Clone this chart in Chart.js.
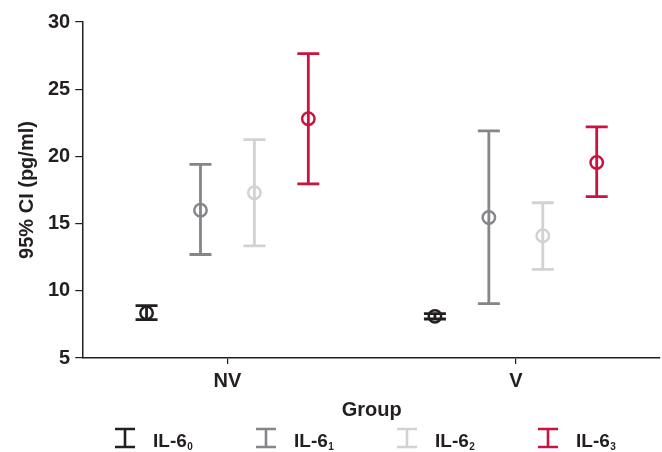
<!DOCTYPE html>
<html>
<head>
<meta charset="utf-8">
<script src="https://cdn.jsdelivr.net/npm/chart.js@4"></script>
<style>
  html, body { margin: 0; padding: 0; background: #fff; }
  #wrap { width: 662px; height: 452px; }
</style>
</head>
<body>
<div id="wrap"><canvas id="chart"></canvas></div>
<script>
// カテゴリ
const groups = ["NV", "V"];
const seriesLabels = ["0", "1", "2", "3"]; // IL-6 の添字
const yTicks = [5, 10, 15, 20, 25, 30];

// 平均値と95%CI（下限・上限）
const il6_0_mean = [8.35, 8.1];
const il6_0_low = [7.85, 7.9];
const il6_0_high = [8.9, 8.3];

const il6_1_mean = [16.0, 15.45];
const il6_1_low = [12.7, 9.05];
const il6_1_high = [19.4, 21.9];

const il6_2_mean = [17.3, 14.1];
const il6_2_low = [13.35, 11.6];
const il6_2_high = [21.25, 16.55];

const il6_3_mean = [22.8, 19.55];
const il6_3_low = [17.95, 17.0];
const il6_3_high = [27.65, 22.2];

// 色
const colors = ["#231f20", "#85858a", "#d2d2d2", "#c8143f"];

const means = [il6_0_mean, il6_1_mean, il6_2_mean, il6_3_mean];
const lows = [il6_0_low, il6_1_low, il6_2_low, il6_3_low];
const highs = [il6_0_high, il6_1_high, il6_2_high, il6_3_high];

const FONT = "'Liberation Sans', Arial, Helvetica, sans-serif";
const SPREAD = 0.187; // グループ内の系列間隔（x軸単位）
const CAP = 11;

const datasets = means.map((m, s) => ({
  label: "IL-6" + seriesLabels[s],
  data: m.map((v, g) => ({ x: g + 1 + (s - 1.5) * SPREAD, y: v })),
  borderColor: colors[s],
  backgroundColor: "rgba(0,0,0,0)",
  pointRadius: 6.2,
  pointHoverRadius: 6.2,
  pointBorderWidth: 2.5,
  showLine: false,
}));

// エラーバー描画
const errorBars = {
  id: "errorBars",
  beforeDatasetsDraw(chart) {
    const { ctx, scales } = chart;
    ctx.save();
    ctx.lineWidth = 2.8;
    means.forEach((m, s) => {
      ctx.strokeStyle = colors[s];
      m.forEach((v, g) => {
        const x = scales.x.getPixelForValue(g + 1 + (s - 1.5) * SPREAD);
        const yl = scales.y.getPixelForValue(lows[s][g]);
        const yh = scales.y.getPixelForValue(highs[s][g]);
        ctx.beginPath();
        ctx.moveTo(x, yl);
        ctx.lineTo(x, yh);
        ctx.moveTo(x - CAP, yl);
        ctx.lineTo(x + CAP, yl);
        ctx.moveTo(x - CAP, yh);
        ctx.lineTo(x + CAP, yh);
        ctx.stroke();
      });
    });
    ctx.restore();
  },
  afterDraw(chart) {
    // 凡例
    const ctx = chart.ctx;
    ctx.save();
    const cy = 438;
    seriesLabels.forEach((sub, s) => {
      const cx = 125 + s * 141;
      ctx.strokeStyle = colors[s];
      ctx.lineWidth = 2.6;
      ctx.beginPath();
      ctx.moveTo(cx, cy - 9);
      ctx.lineTo(cx, cy + 9);
      ctx.moveTo(cx - 10, cy - 9);
      ctx.lineTo(cx + 10, cy - 9);
      ctx.moveTo(cx - 10, cy + 9);
      ctx.lineTo(cx + 10, cy + 9);
      ctx.stroke();
      ctx.fillStyle = "#231f20";
      ctx.textBaseline = "alphabetic";
      ctx.textAlign = "left";
      ctx.font = "bold 19px " + FONT;
      const tx = cx + 28;
      ctx.fillText("IL-6", tx, cy + 9);
      const w = ctx.measureText("IL-6").width;
      ctx.font = "bold 10px " + FONT;
      ctx.fillText(sub, tx + w + 0.5, cy + 12);
    });
    ctx.restore();
  },
};

new Chart(document.getElementById("chart"), {
  type: "scatter",
  data: { datasets },
  plugins: [errorBars],
  options: {
    responsive: true,
    maintainAspectRatio: false,
    animation: false,
    layout: { autoPadding: false, padding: { top: 22, right: 2, bottom: 30, left: 15 } },
    plugins: {
      legend: { display: false },
      tooltip: { enabled: false },
    },
    scales: {
      x: {
        type: "linear",
        min: 0.5,
        max: 2.5,
        afterBuildTicks: (axis) => {
          axis.ticks = groups.map((_, i) => ({ value: i + 1 }));
        },
        ticks: {
          callback: (v) => groups[v - 1] || "",
          color: "#231f20",
          font: { family: FONT, size: 20, weight: "bold" },
          padding: 5,
        },
        grid: {
          drawOnChartArea: false,
          drawTicks: true,
          tickLength: 6,
          color: "#231f20",
          lineWidth: 1.2,
        },
        border: { display: true, color: "#231f20", width: 1.5 },
        title: {
          display: true,
          text: "Group",
          color: "#231f20",
          font: { family: FONT, size: 20, weight: "bold" },
          padding: { top: 0, bottom: 0 },
        },
      },
      y: {
        min: 5,
        max: 30,
        afterBuildTicks: (axis) => {
          axis.ticks = yTicks.map((v) => ({ value: v }));
        },
        ticks: {
          color: "#231f20",
          font: { family: FONT, size: 20, weight: "bold" },
          padding: 5,
        },
        grid: {
          drawOnChartArea: false,
          drawTicks: true,
          tickLength: 8,
          color: "#231f20",
          lineWidth: 1.2,
        },
        border: { display: true, color: "#231f20", width: 1.5 },
        title: {
          display: true,
          text: "95% CI (pg/ml)",
          color: "#231f20",
          font: { family: FONT, size: 20, weight: "bold" },
          padding: { top: 0, bottom: 4 },
        },
      },
    },
  },
});
</script>
</body>
</html>
